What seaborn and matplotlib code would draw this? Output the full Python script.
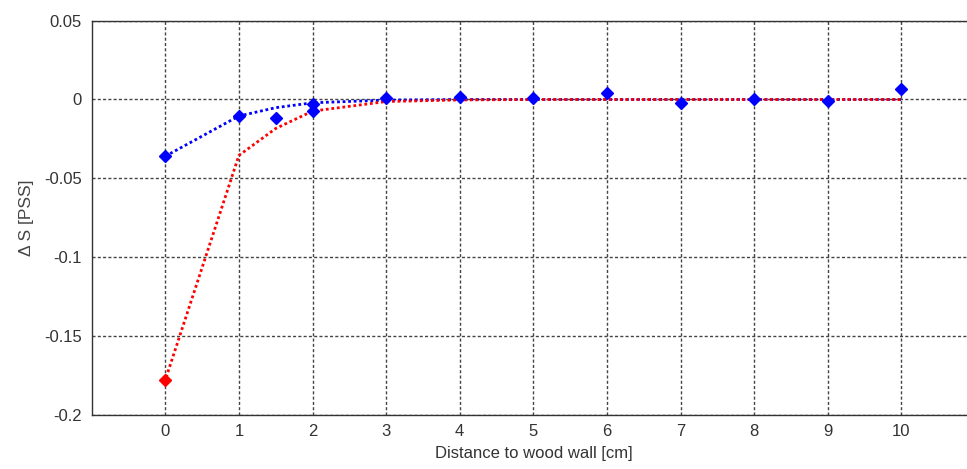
import numpy as np
import pandas as pd
import seaborn as sns
import matplotlib.pyplot as plt

# measured points (blue) with small error bars
meas_x = [0, 1, 1.5, 2, 2, 3, 4, 5, 6, 7, 8, 9, 10]
meas_y = [-0.036, -0.0102, -0.0117, -0.0027, -0.0074, 0.0008, 0.0015,
          0.0011, 0.0044, -0.0021, 0.0000, -0.0011, 0.0067]
meas_err = [0.0028] * len(meas_x)

# red reference point at the wall
ref_x = [0]
ref_y = [-0.178]
ref_err = [0.0028]

# fitted curves
fit_x = [0, 1, 1.5, 2, 3, 4, 5, 6, 7, 8, 9, 10]
fit_blue = [-0.036, -0.0105, -0.0052, -0.0021, -0.0004, 0, 0, 0, 0, 0, 0, 0]
fit_red = [-0.178, -0.0355, -0.0184, -0.0074, -0.0013, -0.0003, 0, 0, 0, 0, 0, 0]

x_ticks = list(range(0, 11))
y_ticks = [-0.2, -0.15, -0.1, -0.05, 0, 0.05]
y_tick_labels = ['-0.2', '-0.15', '-0.1', '-0.05', '0', '0.05']

sns.set_style('white')
plt.rcParams['font.family'] = ['Liberation Sans', 'DejaVu Sans']

fig = plt.figure(figsize=(9.67, 4.69), dpi=100)
ax = fig.add_axes([0.0948, 0.1158, 0.9135, 0.8401])

df_fit = pd.DataFrame({'x': fit_x, 'blue': fit_blue, 'red': fit_red})
sns.lineplot(data=df_fit, x='x', y='blue', ax=ax, color='#0000ff', lw=2,
             linestyle=(0, (1, 1)), zorder=3)
sns.lineplot(data=df_fit, x='x', y='red', ax=ax, color='#ff0000', lw=2,
             linestyle=(1, (1, 1)), zorder=3)

ax.errorbar(meas_x, meas_y, yerr=meas_err, fmt='D', color='#0000ff',
            ms=6, elinewidth=1.8, capsize=0, zorder=4)
ax.errorbar(ref_x, ref_y, yerr=ref_err, fmt='D', color='#ff0000',
            ms=6, elinewidth=1.8, capsize=0, zorder=4)

ax.set_xlim(-1, 11)
ax.set_ylim(-0.2, 0.05)
ax.set_xticks(x_ticks)
ax.set_yticks(y_ticks)
ax.set_yticklabels(y_tick_labels)
ax.grid(True, color='#444444', linestyle=(0, (2.2, 1.6)), lw=1)
ax.set_axisbelow(True)

ax.tick_params(direction='in', length=4, width=1, colors='#333333',
               labelsize=12, pad=7)
for side in ['left', 'bottom', 'top', 'right']:
    ax.spines[side].set_color('#333333')
    ax.spines[side].set_linewidth(1)

ax.set_xlabel('Distance to wood wall [cm]', fontsize=12, color='#333333', labelpad=5)
ax.set_ylabel('Δ S [PSS]', fontsize=12.5, color='#444444', labelpad=7)

fig.savefig('out.png', dpi=100)
